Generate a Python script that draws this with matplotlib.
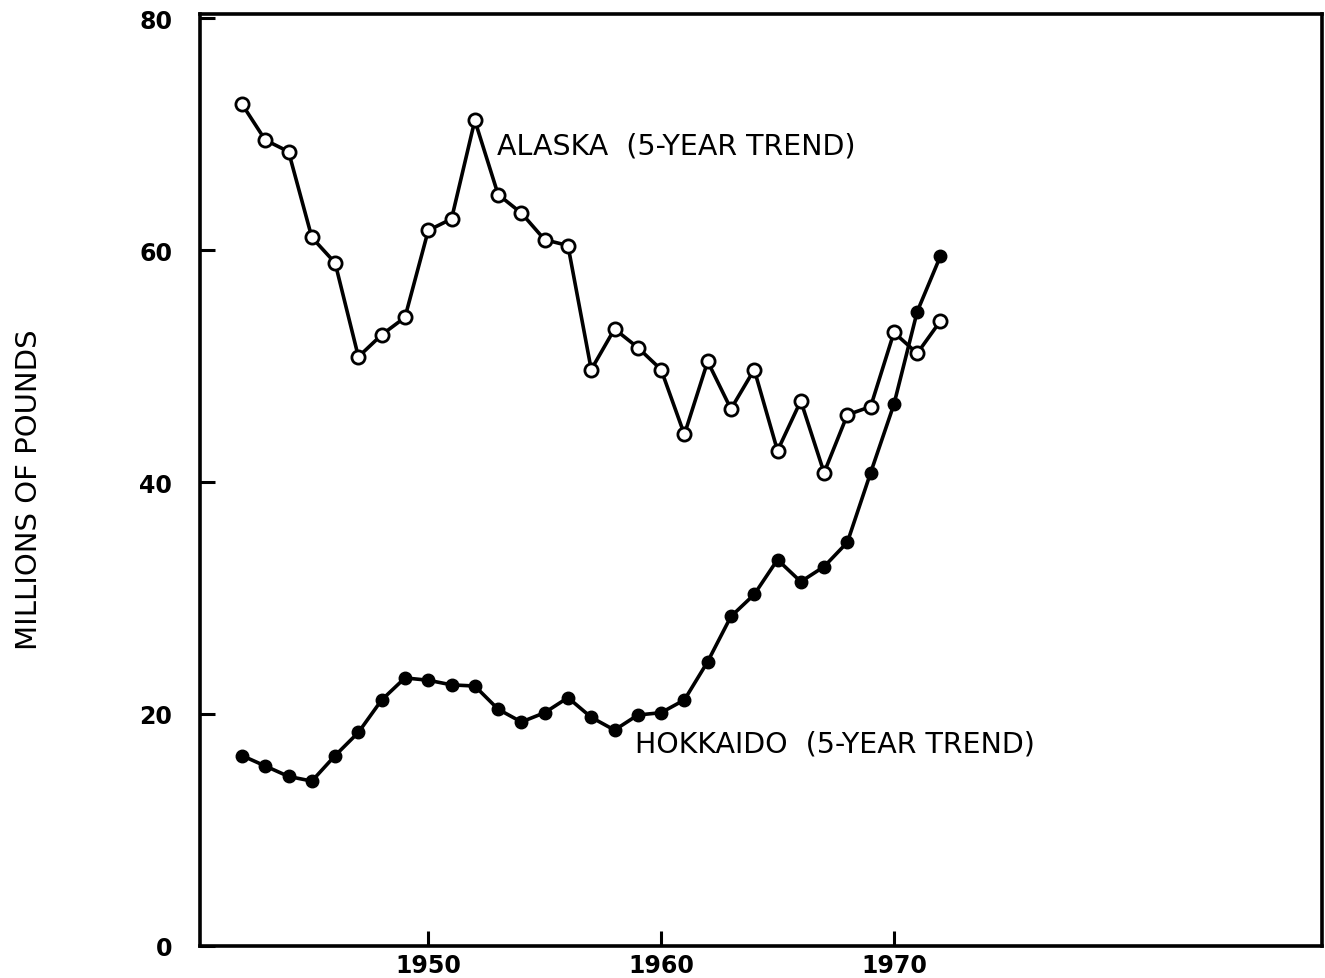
import matplotlib
matplotlib.use("Agg")
import matplotlib.pyplot as plt

# years of the 5-year trend values
years = list(range(1942, 1973))

# Alaska catch, millions of pounds (open circles)
alaska = [72.6, 69.5, 68.5, 61.1, 58.9, 50.8, 52.7, 54.2, 61.7, 62.7,
          71.2, 64.8, 63.2, 60.9, 60.4, 49.7, 53.2, 51.6, 49.7, 44.1,
          50.4, 46.3, 49.7, 42.7, 47.0, 40.8, 45.8, 46.5, 52.9, 51.1, 53.9]

# Hokkaido catch, millions of pounds (filled circles)
hokkaido = [16.4, 15.5, 14.6, 14.2, 16.4, 18.4, 21.2, 23.1, 22.9, 22.5,
            22.4, 20.4, 19.3, 20.1, 21.4, 19.7, 18.6, 19.9, 20.1, 21.2,
            24.5, 28.4, 30.3, 33.3, 31.4, 32.7, 34.8, 40.8, 46.7, 54.7, 59.5]

xticks = [1950, 1960, 1970]
yticks = [0, 20, 40, 60, 80]

fig = plt.figure(figsize=(13.25, 9.79), dpi=100)
ax = fig.add_axes([0.151, 0.033, 0.847, 0.952])

ax.plot(years, alaska, color="black", linewidth=2.6, marker="o", markersize=9.5,
        markerfacecolor="white", markeredgecolor="black", markeredgewidth=2.0, zorder=3)
ax.plot(years, hokkaido, color="black", linewidth=2.6, marker="o", markersize=9,
        markerfacecolor="black", markeredgecolor="black", zorder=3)

ax.text(1952.95, 69.0, "ALASKA  (5-YEAR TREND)", fontsize=20.5, va="center", ha="left")
ax.text(1958.9, 17.4, "HOKKAIDO  (5-YEAR TREND)", fontsize=20.5, va="center", ha="left")

ax.set_xlim(1940.2, 1988.4)
ax.set_ylim(0, 80.4)
ax.set_xticks(xticks)
ax.set_yticks(yticks)
ax.set_xticklabels([str(t) for t in xticks], fontsize=17, fontweight="bold")
ax.set_yticklabels([str(t) for t in yticks], fontsize=17, fontweight="bold")
ax.tick_params(direction="in", length=11, width=2.2)
ax.tick_params(axis="x", pad=5)
ax.tick_params(axis="y", pad=20)

for s in ax.spines.values():
    s.set_linewidth(2.6)

fig.text(0.022, 0.5, "MILLIONS OF POUNDS", rotation=90, fontsize=21,
         va="center", ha="center")

fig.savefig("out.png", dpi=100)
